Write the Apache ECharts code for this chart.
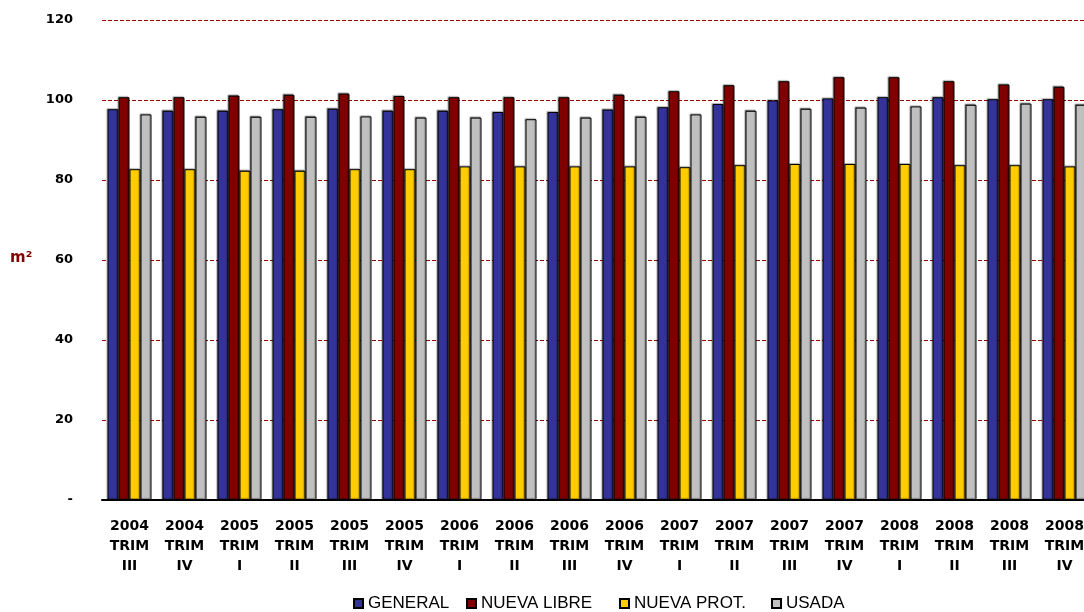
<!DOCTYPE html>
<html>
<head>
<meta charset="utf-8">
<script src="https://cdn.jsdelivr.net/npm/echarts@6/dist/echarts.min.js"></script>
<style>
  html, body { margin: 0; padding: 0; background: #fff; overflow: hidden; }
  #chart { width: 1094px; height: 612px; }
</style>
</head>
<body>
<div id="chart"></div>
<script>
var years = ['2004', '2004', '2005', '2005', '2005', '2005', '2006', '2006', '2006', '2006',
             '2007', '2007', '2007', '2007', '2008', '2008', '2008', '2008'];
var trims = ['III', 'IV', 'I', 'II', 'III', 'IV', 'I', 'II', 'III', 'IV',
             'I', 'II', 'III', 'IV', 'I', 'II', 'III', 'IV'];

var general     = [97.7, 97.3, 97.3, 97.7, 97.8, 97.3, 97.3, 97.0, 97.0, 97.6, 98.2, 99.0, 99.9, 100.4, 100.7, 100.7, 100.2, 100.2];
var nuevaLibre  = [100.7, 100.7, 101.1, 101.3, 101.6, 101.0, 100.7, 100.7, 100.7, 101.3, 102.2, 103.7, 104.7, 105.7, 105.7, 104.7, 103.9, 103.3];
var nuevaProt   = [82.7, 82.7, 82.3, 82.3, 82.7, 82.7, 83.4, 83.4, 83.4, 83.4, 83.2, 83.7, 84.0, 84.0, 84.0, 83.7, 83.7, 83.4];
var usada       = [96.4, 95.8, 95.8, 95.8, 95.9, 95.6, 95.6, 95.2, 95.6, 95.8, 96.4, 97.3, 97.8, 98.1, 98.4, 98.8, 99.1, 98.8];

var yTicks = { min: 0, max: 120, interval: 20 };

var categories = years.map(function (y, i) { return y + '\nTRIM\n' + trims[i]; });

var chart = echarts.init(document.getElementById('chart'));

function bar(name, data, color) {
    return {
        name: name,
        type: 'bar',
        data: data,
        barWidth: 11,
        barGap: '0%',
        itemStyle: {
            color: color,
            borderColor: '#000',
            borderWidth: 1,
            shadowColor: 'rgba(0,0,0,0.35)',
            shadowBlur: 1,
            shadowOffsetX: -1,
            shadowOffsetY: -1
        }
    };
}

function legendItem(name, left) {
    return {
        data: [name],
        left: left,
        top: 595,
        padding: 0,
        itemWidth: 9,
        itemHeight: 9,
        itemGap: 0,
        icon: 'rect',
        textStyle: { fontFamily: 'Liberation Sans', fontSize: 17, color: '#000' }
    };
}

var option = {
    animation: false,
    backgroundColor: '#fff',
    // plot runs past the right edge of the window, as in the source
    grid: { left: 102, right: 2, top: 20, bottom: 112, containLabel: false },
    legend: [
        legendItem('GENERAL', 353),
        legendItem('NUEVA LIBRE', 466),
        legendItem('NUEVA PROT.', 619),
        legendItem('USADA', 771)
    ],
    graphic: [{
        type: 'text',
        left: 10,
        top: 251,
        style: {
            text: 'm²',
            fill: '#800000',
            font: 'bold 15px "DejaVu Sans"'
        }
    }],
    xAxis: {
        type: 'category',
        data: categories,
        axisLine: { lineStyle: { color: '#000', width: 2 } },
        axisTick: { show: false },
        axisLabel: {
            interval: 0,
            margin: 16,
            fontFamily: 'DejaVu Sans',
            fontWeight: 'bold',
            fontSize: 14,
            lineHeight: 20,
            color: '#000'
        }
    },
    yAxis: {
        type: 'value',
        min: yTicks.min,
        max: yTicks.max,
        interval: yTicks.interval,
        axisLine: { show: false },
        axisTick: { show: false },
        splitLine: { lineStyle: { color: '#990000', type: [4, 2], width: 1 } },
        axisLabel: {
            margin: 29,
            fontFamily: 'DejaVu Sans',
            fontWeight: 'bold',
            fontSize: 13,
            color: '#000',
            formatter: function (v) { return v === 0 ? '-' : v; }
        }
    },
    series: [
        bar('GENERAL', general, '#333399'),
        bar('NUEVA LIBRE', nuevaLibre, '#800000'),
        bar('NUEVA PROT.', nuevaProt, '#FFCC00'),
        bar('USADA', usada, '#C0C0C0')
    ]
};
chart.setOption(option);
</script>
</body>
</html>
